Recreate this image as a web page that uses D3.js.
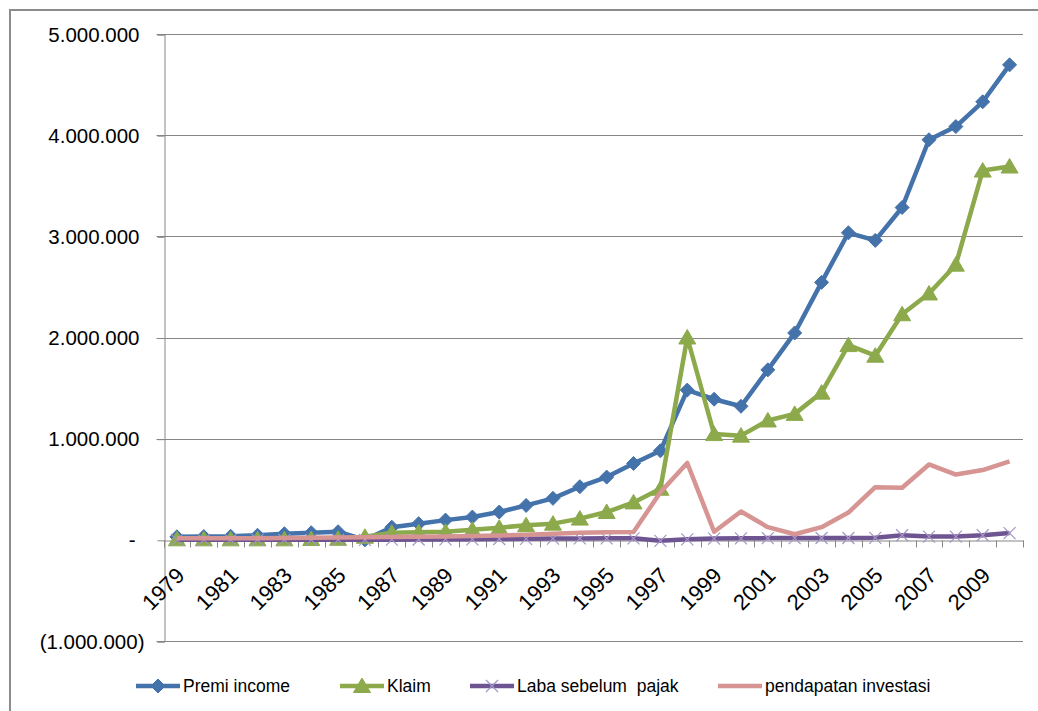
<!DOCTYPE html>
<html>
<head>
<meta charset="utf-8">
<script src="https://cdn.jsdelivr.net/npm/d3@7/dist/d3.min.js"></script>
<style>
  html, body { margin: 0; padding: 0; background: #fff; }
  svg { display: block; }
  text { font-family: "Liberation Sans", Arial, sans-serif; fill: #000; white-space: pre; }
</style>
</head>
<body>
<svg id="chart" width="1038" height="711"></svg>
<script>
// Years on the category axis
const years = [1979, 1980, 1981, 1982, 1983, 1984, 1985, 1986, 1987, 1988, 1989,
  1990, 1991, 1992, 1993, 1994, 1995, 1996, 1997, 1998, 1999, 2000,
  2001, 2002, 2003, 2004, 2005, 2006, 2007, 2008, 2009, 2010];

// Series values
const premiIncome = [30000, 32000, 35000, 45000, 60000, 70000, 80000, 0, 125000, 160000, 195000,
  225000, 275000, 340000, 410000, 525000, 620000, 755000, 880000, 1480000, 1390000, 1320000,
  1680000, 2045000, 2545000, 3035000, 2960000, 3285000, 3955000, 4085000, 4330000, 4695000];

const klaim = [5000, 5000, 5000, 5000, 5000, 8000, 10000, 30000, 70000, 75000, 80000,
  100000, 120000, 145000, 160000, 210000, 275000, 370000, 505000, 2000000, 1045000, 1030000,
  1180000, 1245000, 1455000, 1925000, 1820000, 2230000, 2435000, 2720000, 3650000, 3690000];

const labaSebelumPajak = [0, 0, 0, 0, 0, 0, 0, 0, 2000, 3000, 4000,
  5000, 8000, 10000, 12000, 14000, 15000, 15000, -10000, 5000, 12000, 15000,
  17000, 17000, 18000, 18000, 20000, 45000, 32000, 32000, 45000, 67000];

const pendapatanInvestasi = [15000, 15000, 15000, 16000, 18000, 20000, 22000, 25000, 28000, 30000, 33000,
  37000, 42000, 50000, 60000, 70000, 75000, 78000, 470000, 760000, 80000, 280000,
  125000, 55000, 125000, 270000, 520000, 515000, 745000, 645000, 690000, 775000];

// Value-axis ticks and labels
const yTicks = [-1000000, 0, 1000000, 2000000, 3000000, 4000000, 5000000];
const yTickLabels = ["(1.000.000)", "-", "1.000.000", "2.000.000", "3.000.000", "4.000.000", "5.000.000"];

// Category-axis labels (every other year)
const xTickLabels = [1979, 1981, 1983, 1985, 1987, 1989, 1991, 1993, 1995, 1997, 1999, 2001, 2003, 2005, 2007, 2009];

const series = [
  { name: "Premi income", values: premiIncome, color: "#4472AA", marker: "diamond" },
  { name: "Klaim", values: klaim, color: "#8CAA4B", marker: "triangle" },
  { name: "Laba sebelum  pajak", values: labaSebelumPajak, color: "#6E5592", marker: "cross" },
  { name: "pendapatan investasi", values: pendapatanInvestasi, color: "#D69493", marker: null }
];

const svg = d3.select("#chart");
const plot = { left: 163.5, right: 1023, top: 34, bottom: 641 };

// Outer chart frame
svg.append("rect")
  .attr("x", 10).attr("y", 10)
  .attr("width", 1040).attr("height", 720)
  .attr("fill", "none").attr("stroke", "#8c8c8c").attr("stroke-width", 2);

const x = d3.scaleBand().domain(years).range([plot.left, plot.right]).padding(0);
const y = d3.scaleLinear().domain([-1000000, 5000000]).range([plot.bottom, plot.top]);
const cx = d => x(d) + x.bandwidth() / 2;

// Horizontal gridlines
svg.append("g").selectAll("line")
  .data(yTicks.filter(v => v !== 0))
  .join("line")
  .attr("x1", plot.left - 7).attr("x2", plot.right)
  .attr("y1", d => Math.round(y(d)) + 0.5).attr("y2", d => Math.round(y(d)) + 0.5)
  .attr("stroke", "#868686").attr("stroke-width", 1);

// Value axis
const yAxis = d3.axisLeft(y)
  .tickValues(yTicks)
  .tickSize(7)
  .tickPadding(18)
  .tickFormat((d, i) => yTickLabels[i]);
const gy = svg.append("g")
  .attr("transform", `translate(${Math.round(plot.left) + 0.5},0.5)`)
  .call(yAxis);
gy.select(".domain").attr("stroke", "#868686");
gy.selectAll(".tick line").attr("stroke", "#868686");
gy.selectAll(".tick text")
  .style("font-size", "20.5px")
  .attr("dx", d => d < 0 ? 5 : (d === 0 ? -4 : 0));

// Category axis along the zero line
const xAxis = d3.axisBottom(x).tickSize(0).tickFormat("");
const gx = svg.append("g")
  .attr("transform", `translate(0,${Math.round(y(0)) + 0.5})`)
  .call(xAxis);
gx.select(".domain").attr("stroke", "#868686");
gx.selectAll(".tick").remove();
gx.append("g").selectAll("line")
  .data(years.concat([null]))
  .join("line")
  .attr("x1", (d, i) => Math.round(plot.left + i * x.bandwidth()) + 0.5)
  .attr("x2", (d, i) => Math.round(plot.left + i * x.bandwidth()) + 0.5)
  .attr("y1", 0).attr("y2", 7)
  .attr("stroke", "#868686");

svg.append("g").selectAll("text")
  .data(xTickLabels)
  .join("text")
  .attr("transform", d => `translate(${cx(d) + 9},${y(0) + 37}) rotate(-45)`)
  .attr("text-anchor", "end")
  .style("font-size", "22px")
  .text(d => d);

// Lines and markers
const line = d3.line().x((d, i) => cx(years[i])).y(d => y(d));

function drawMarker(g, type, color, px, py) {
  if (type === "diamond") {
    g.append("path")
      .attr("d", `M${px},${py - 7}L${px + 7},${py}L${px},${py + 7}L${px - 7},${py}Z`)
      .attr("fill", color).attr("stroke", color).attr("stroke-width", 1);
  } else if (type === "triangle") {
    g.append("path")
      .attr("d", `M${px},${py - 8}L${px + 8.5},${py + 6.5}L${px - 8.5},${py + 6.5}Z`)
      .attr("fill", color).attr("stroke", color).attr("stroke-width", 1);
  } else if (type === "cross") {
    g.append("path")
      .attr("d", `M${px - 6},${py - 6}L${px + 6},${py + 6}M${px + 6},${py - 6}L${px - 6},${py + 6}`)
      .attr("fill", "none").attr("stroke", "#a396c6").attr("stroke-width", 1.2);
  }
}

series.forEach(s => {
  const g = svg.append("g");
  g.append("path")
    .datum(s.values)
    .attr("d", line)
    .attr("fill", "none")
    .attr("stroke", s.color)
    .attr("stroke-width", 4.5)
    .attr("stroke-linejoin", "round");
  if (s.marker) {
    s.values.forEach((v, i) => drawMarker(g, s.marker, s.color, cx(years[i]), y(v)));
  }
});

// Legend
const legendX = [136, 340, 470, 718];
const legend = svg.append("g");
series.forEach((s, i) => {
  const lx = legendX[i], ly = 686;
  const g = legend.append("g");
  g.append("line")
    .attr("x1", lx).attr("x2", lx + 44)
    .attr("y1", ly).attr("y2", ly)
    .attr("stroke", s.color).attr("stroke-width", 4.5);
  if (s.marker) drawMarker(g, s.marker, s.color, lx + 22, ly);
  g.append("text")
    .attr("x", lx + 47).attr("y", ly + 6)
    .style("font-size", "17.5px")
    .text(s.name);
});
</script>
</body>
</html>
